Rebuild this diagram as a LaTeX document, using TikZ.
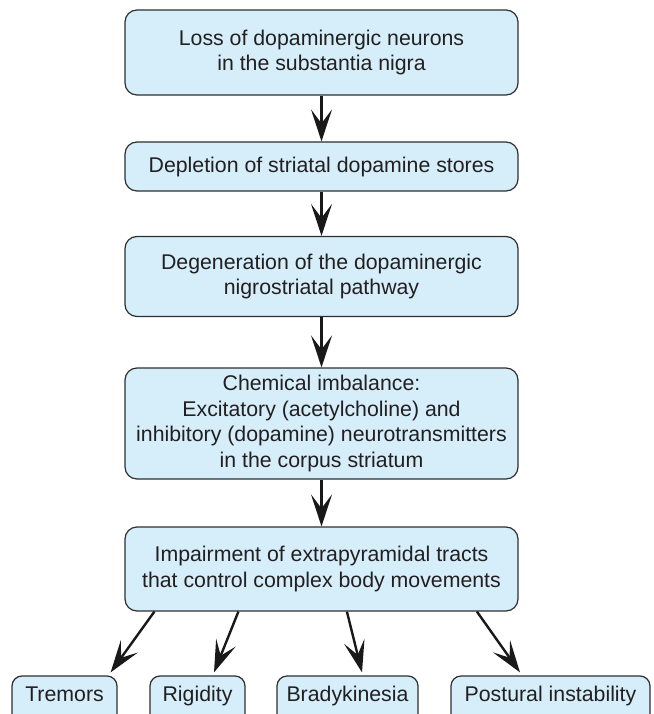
\documentclass[tikz,border=0pt]{standalone}
\usepackage{fontspec}
\setmainfont{Liberation Sans}
\usetikzlibrary{arrows.meta,calc}
\definecolor{boxfill}{HTML}{D6EEFA}
\definecolor{boxline}{HTML}{2E2E2E}
\definecolor{inktext}{HTML}{231F20}
\tikzset{
  boxbase/.style={draw=boxline, line width=1.2pt, fill=boxfill,
    text=inktext, inner sep=0pt, font=\fontsize{21.3}{25.5}\selectfont},
  flowbox/.style={boxbase, rounded corners=12pt, align=center},
  % single-line symptom boxes; text sits a little above the box centre
  leafbox/.style={boxbase, rounded corners=10pt, minimum height=48pt,
    text height=12pt, text depth=10pt},
  arr/.style={draw=black!90, line width=2.4pt,
    -{Stealth[length=32pt, width=21pt, inset=14pt]}}
}
\begin{document}
\begin{tikzpicture}[x=1pt,y=-1pt]
  \useasboundingbox (0,0) rectangle (653,714);
  \clip (0,0) rectangle (653,714);

  % main chain
  \node[flowbox, minimum width=393pt, minimum height=85pt] (b1) at (321.5,52.5)
    {Loss of dopaminergic neurons\\in the substantia nigra};
  \node[flowbox, minimum width=393pt, minimum height=49pt] (b2) at (321.5,166.5)
    {Depletion of striatal dopamine stores};
  \node[flowbox, minimum width=393pt, minimum height=80pt] (b3) at (321.5,276.5)
    {Degeneration of the dopaminergic\\nigrostriatal pathway};
  \node[flowbox, minimum width=393pt, minimum height=111pt] (b4) at (321.5,423.5)
    {Chemical imbalance:\\Excitatory (acetylcholine) and\\inhibitory (dopamine) neurotransmitters\\in the corpus striatum};
  \node[flowbox, minimum width=393pt, minimum height=84pt] (b5) at (321.5,569)
    {Impairment of extrapyramidal tracts\\that control complex body movements};

  % symptoms (boxes run past the lower edge)
  \node[leafbox, minimum width=105pt] (tr) at (64.5,700) {Tremors};
  \node[leafbox, minimum width=95pt] (ri) at (197.5,700) {Rigidity};
  \node[leafbox, minimum width=141pt] (br) at (347.5,700) {Bradykinesia};
  \node[leafbox, minimum width=199pt] (po) at (550.5,700) {Postural instability};

  % connectors
  \draw[arr] (b1.south) -- (b2.north);
  \draw[arr] (b2.south) -- (b3.north);
  \draw[arr] (b3.south) -- (b4.north);
  \draw[arr] (b4.south) -- (b5.north);

  \draw[arr] ($(b5.south west)+(30,0)$) -- ($(tr.north east)+(-7,-3)$);
  \draw[arr] ($(b5.south west)+(114,0)$) -- ($(ri.north)+(16.5,-3)$);
  \draw[arr] ($(b5.south west)+(222.5,0)$) -- ($(br.north)+(14.5,-3)$);
  \draw[arr] ($(b5.south west)+(352.5,0)$) -- ($(po.north)+(-30.5,-3)$);
\end{tikzpicture}
\end{document}
